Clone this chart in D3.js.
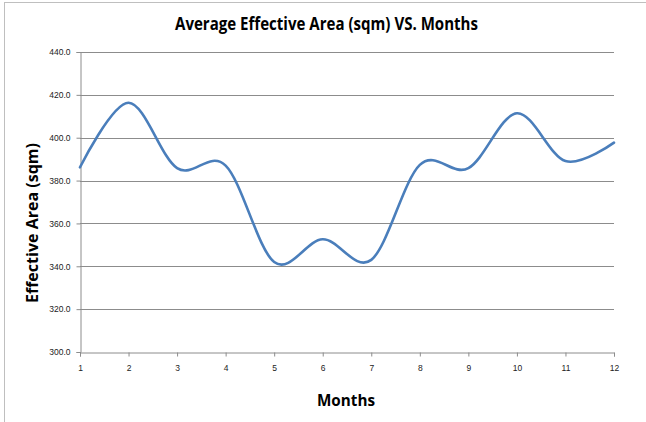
<!DOCTYPE html>
<html>
<head>
<meta charset="utf-8">
<script src="https://cdn.jsdelivr.net/npm/d3@7"></script>
<style>
  html, body { margin: 0; padding: 0; background: #fff; }
  svg { display: block; }
</style>
</head>
<body>
<svg id="chart" width="646" height="422"></svg>
<script>
// Monthly average effective area (sqm)
const months = [1, 2, 3, 4, 5, 6, 7, 8, 9, 10, 11, 12];
const avgArea = [386.2, 416.3, 385.8, 387.0, 342.0, 352.6, 343.0, 387.3, 385.8, 411.4, 389.1, 397.7];
const yTicks = [300, 320, 340, 360, 380, 400, 420, 440];

const titleText = "Average Effective Area (sqm) VS. Months";
const xTitle = "Months";
const yTitle = "Effective Area (sqm)";

const W = 646, H = 422;
const plot = { left: 80, right: 614, top: 52, bottom: 352 };

const svg = d3.select("#chart");

// chart frame
svg.append("rect")
  .attr("x", 4.5).attr("y", 2.5)
  .attr("width", W + 10).attr("height", H + 10)
  .attr("fill", "none")
  .attr("stroke", "#bfbfbf")
  .attr("stroke-width", 1);

const x = d3.scaleLinear().domain([1, 12]).range([plot.left, plot.right]);
const y = d3.scaleLinear().domain([300, 440]).range([plot.bottom, plot.top]);

// horizontal gridlines
svg.append("g")
  .selectAll("line")
  .data(yTicks.filter(v => v !== 300))
  .join("line")
  .attr("x1", plot.left).attr("x2", plot.right)
  .attr("y1", d => Math.round(y(d)) + 0.5)
  .attr("y2", d => Math.round(y(d)) + 0.5)
  .attr("stroke", "#8c8c8c")
  .attr("stroke-width", 1);

const tickFont = "'Liberation Sans', Arial, sans-serif";

// y axis
const yAxis = svg.append("g")
  .attr("transform", `translate(${plot.left + 0.5},0)`)
  .call(d3.axisLeft(y).tickValues(yTicks).tickSize(4).tickPadding(6).tickFormat(d3.format(".1f")));
yAxis.select(".domain").attr("stroke", "#8c8c8c");
yAxis.selectAll(".tick line").attr("stroke", "#8c8c8c");
yAxis.selectAll(".tick text")
  .attr("font-family", tickFont)
  .attr("font-size", 8.5)
  .attr("fill", "#222");

// x axis
const xAxis = svg.append("g")
  .attr("transform", `translate(0,${plot.bottom + 0.5})`)
  .call(d3.axisBottom(x).tickValues(months).tickSize(4).tickPadding(8).tickFormat(d3.format("d")));
xAxis.select(".domain").attr("stroke", "#8c8c8c");
xAxis.selectAll(".tick line").attr("stroke", "#8c8c8c");
xAxis.selectAll(".tick text")
  .attr("font-family", tickFont)
  .attr("font-size", 8.5)
  .attr("fill", "#222");

// smoothed series line
const line = d3.line()
  .x((d, i) => x(months[i]))
  .y(d => y(d))
  .curve(d3.curveCardinal.tension(0));

svg.append("path")
  .datum(avgArea)
  .attr("d", line)
  .attr("fill", "none")
  .attr("stroke", "#4a7ebb")
  .attr("stroke-width", 2.6)
  .attr("stroke-linecap", "round")
  .attr("stroke-linejoin", "round");

const titleFont = "'Open Sans', 'Liberation Sans', sans-serif";

// chart title
svg.append("text")
  .attr("x", 326.5).attr("y", 30)
  .attr("text-anchor", "middle")
  .attr("font-family", titleFont)
  .attr("font-weight", "bold")
  .attr("font-size", 17)
  .attr("textLength", 303)
  .attr("lengthAdjust", "spacingAndGlyphs")
  .attr("fill", "#000")
  .text(titleText);

// x axis title
svg.append("text")
  .attr("x", 346).attr("y", 406)
  .attr("text-anchor", "middle")
  .attr("font-family", titleFont)
  .attr("font-weight", "bold")
  .attr("font-size", 16)
  .attr("textLength", 58)
  .attr("lengthAdjust", "spacingAndGlyphs")
  .attr("fill", "#000")
  .text(xTitle);

// y axis title
svg.append("text")
  .attr("transform", `translate(38,223) rotate(-90)`)
  .attr("text-anchor", "middle")
  .attr("font-family", titleFont)
  .attr("font-weight", "bold")
  .attr("font-size", 16)
  .attr("textLength", 160)
  .attr("lengthAdjust", "spacingAndGlyphs")
  .attr("fill", "#000")
  .text(yTitle);
</script>
</body>
</html>
